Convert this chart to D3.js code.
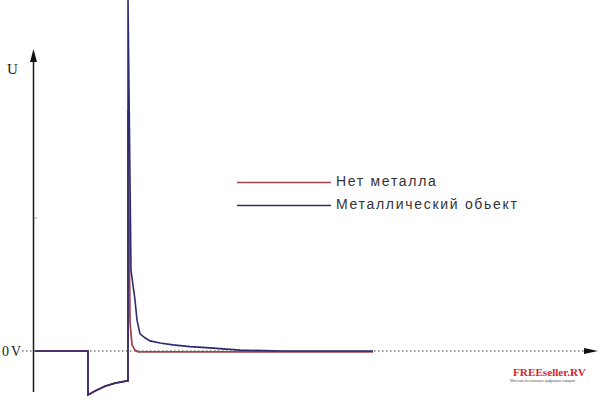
<!DOCTYPE html>
<html><head><meta charset="utf-8">
<script src="https://cdn.jsdelivr.net/npm/d3@7"></script>
<style>body{margin:0;background:#fff}svg{display:block}</style>
</head><body>
<svg id="c" width="600" height="400"></svg>
<script>
// time (arbitrary units), voltage U (arbitrary units)
const metalT = [0, 53, 53, 60, 70, 80, 92, 93, 93, 96, 98, 100, 102, 105, 110, 115, 125, 138, 155, 175, 205, 248, 338];
const metalU = [0, 0, -1.0, -0.91, -0.80, -0.73, -0.68, -0.68, 8.0, 1.84, 1.50, 1.16, 0.70, 0.39, 0.30, 0.23, 0.18, 0.14, 0.10, 0.07, 0.02, 0.0, 0.0];
const noMetalT = [0, 53, 53, 60, 70, 80, 92, 93, 93, 95, 97, 100, 103, 338];
const noMetalU = [0, 0, -1.0, -0.91, -0.80, -0.73, -0.68, -0.68, 5.48, 0.66, 0.14, 0.02, -0.02, -0.02];
const seriesNames = ["Нет металла", "Металлический обьект"];
const seriesColors = ["#a0454f", "#2e2c70"];
const axisLabels = ["U", "0V"];

const svg = d3.select("#c");
const x = d3.scaleLinear().domain([0, 550]).range([35, 585]);
const y = d3.scaleLinear().domain([-1, 8]).range([395, -1]);

// x axis (dotted zero line) with arrow
svg.append("line").attr("x1", 22).attr("x2", 584).attr("y1", y(0)).attr("y2", y(0))
  .attr("stroke", "#333").attr("stroke-width", 1).attr("stroke-dasharray", "1.5,2.5");
svg.append("path").attr("d", `M584,${y(0)-3} L598,${y(0)} L584,${y(0)+3} Z`).attr("fill", "#111");

// y axis with arrow
svg.append("line").attr("x1", 33.5).attr("x2", 33.5).attr("y1", 60).attr("y2", 392)
  .attr("stroke", "#1a1a1a").attr("stroke-width", 1.5);
svg.append("path").attr("d", "M33.5,49 L37,62 L30,62 Z").attr("fill", "#111");
svg.append("line").attr("x1", 34).attr("x2", 37).attr("y1", 218).attr("y2", 218).attr("stroke", "#999");

svg.append("text").attr("x", 7).attr("y", 74).text(axisLabels[0])
  .attr("font-family", "Liberation Serif, serif").attr("font-size", 15).attr("fill", "#222");
svg.append("text").attr("x", 2).attr("y", 356).text(axisLabels[1])
  .attr("font-family", "Liberation Serif, serif").attr("font-size", 14).attr("letter-spacing", 2).attr("fill", "#222");

const line = d3.line().x(d => x(d[0])).y(d => y(d[1]));
const redData = noMetalT.map((t, i) => [t, noMetalU[i]]);
const blueData = metalT.map((t, i) => [t, metalU[i]]);
svg.append("path").datum(redData).attr("d", line).attr("fill", "none")
  .attr("stroke", seriesColors[0]).attr("stroke-width", 1.8);
svg.append("path").datum(blueData).attr("d", line).attr("fill", "none")
  .attr("stroke", seriesColors[1]).attr("stroke-width", 1.6);

// legend
const leg = svg.append("g");
seriesNames.forEach((n, i) => {
  const yy = 182.5 + i * 23;
  leg.append("line").attr("x1", 237).attr("x2", 331).attr("y1", yy).attr("y2", yy)
    .attr("stroke", seriesColors[i]).attr("stroke-width", 1.5);
  leg.append("text").attr("x", 336).attr("y", yy + 3.5).text(n)
    .attr("font-family", "Liberation Sans, Arial, sans-serif").attr("font-size", 14)
    .attr("letter-spacing", 1.7).attr("fill", "#333");
});

// watermark
svg.append("text").attr("x", 513).attr("y", 376).text("FREEseller.RV")
  .attr("font-family", "Liberation Serif, serif").attr("font-weight", "bold").attr("font-size", 11.2)
  .attr("fill", "#d8262c");
svg.append("text").attr("x", 510).attr("y", 382).text("Магазин бесплатных цифровых товаров")
  .attr("font-family", "Liberation Serif, serif").attr("font-size", 3.8).attr("fill", "#555");
</script>
</body></html>
